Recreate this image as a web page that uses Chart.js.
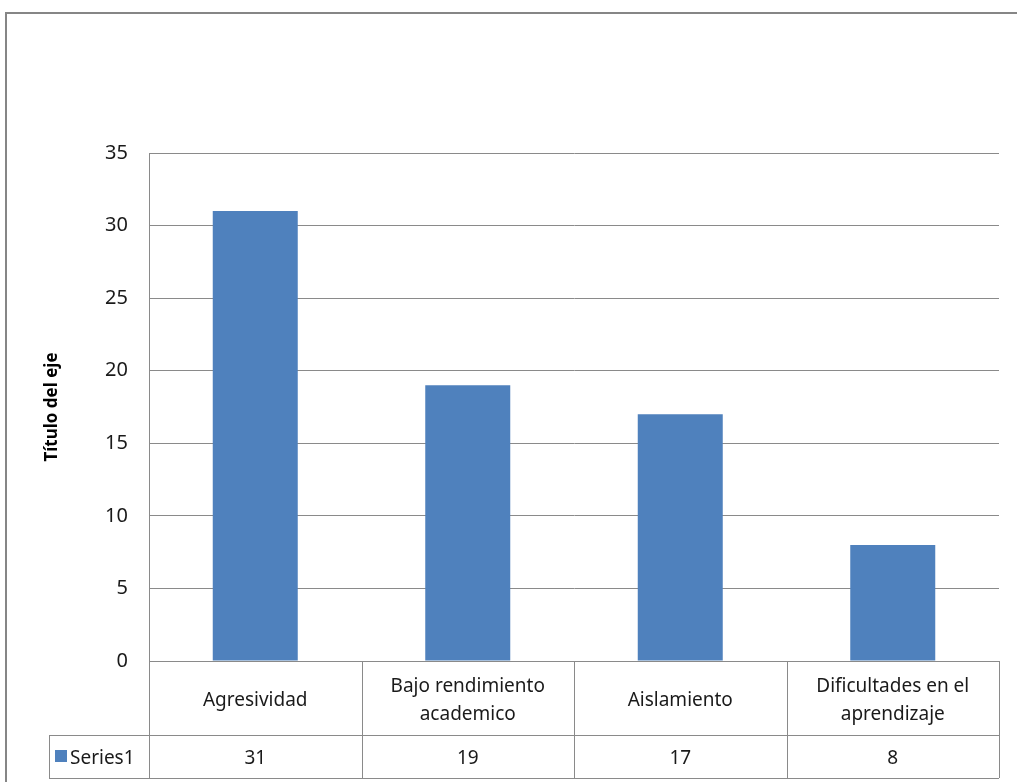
<!DOCTYPE html>
<html>
<head>
<meta charset="utf-8">
<script src="https://cdn.jsdelivr.net/npm/chart.js@4"></script>
<style>
  html, body { margin: 0; padding: 0; background: #fff; }
  #wrap { width: 1017px; height: 782px; position: relative; }
</style>
</head>
<body>
<div id="wrap"><canvas id="barChart" width="1017" height="782"></canvas></div>
<script>
// data
const categories = [['Agresividad'], ['Bajo rendimiento', 'academico'], ['Aislamiento'], ['Dificultades en el', 'aprendizaje']];
const seriesName = 'Series1';
const series1 = [31, 19, 17, 8];
const yTicks = [0, 5, 10, 15, 20, 25, 30, 35];

const fontFam = '"Noto Sans", "Open Sans", sans-serif';
const lineGray = '#8a8a8a';
const barBlue = '#4f81bd';
const textColor = '#1a1a1a';

// draws the outer frame and the data table under the plot
const tablePlugin = {
  id: 'dataTable',
  beforeDraw(chart) {
    const c = chart.ctx;
    c.save();
    c.strokeStyle = '#868686';
    c.lineWidth = 2;
    c.strokeRect(6, 13, 1030, 800);
    c.restore();
  },
  afterDraw(chart) {
    const c = chart.ctx;
    const area = chart.chartArea;
    const x = chart.scales.x;
    const n = categories.length;
    const colW = (area.right - area.left) / n;
    const row1Top = area.bottom, row1Bot = 735, row2Bot = 778;
    const legendLeft = 49;

    c.save();
    c.strokeStyle = lineGray;
    c.lineWidth = 1;
    c.beginPath();
    // horizontal lines
    c.moveTo(area.left, row1Top + 0.5); c.lineTo(area.right, row1Top + 0.5);
    c.moveTo(legendLeft, row1Bot + 0.5); c.lineTo(area.right, row1Bot + 0.5);
    c.moveTo(legendLeft, row2Bot + 0.5); c.lineTo(area.right, row2Bot + 0.5);
    // verticals
    c.moveTo(legendLeft + 0.5, row1Bot); c.lineTo(legendLeft + 0.5, row2Bot);
    for (let i = 0; i <= n; i++) {
      const px = Math.round(area.left + i * colW) + 0.5;
      c.moveTo(px, row1Top); c.lineTo(px, row2Bot);
    }
    c.stroke();

    c.fillStyle = textColor;
    c.font = '19px ' + fontFam;
    c.textAlign = 'center';
    c.textBaseline = 'middle';
    const midY = (row1Top + row1Bot) / 2 + 3;
    categories.forEach((lines, i) => {
      const cx = x.getPixelForValue(i);
      const lh = 28;
      lines.forEach((t, j) => {
        c.fillText(t, cx, midY + (j - (lines.length - 1) / 2) * lh);
      });
      c.fillText(String(series1[i]), cx, (row1Bot + row2Bot) / 2 + 2);
    });

    // legend key
    c.fillStyle = barBlue;
    c.fillRect(55, 750, 12, 12);
    c.fillStyle = textColor;
    c.textAlign = 'left';
    c.fillText(seriesName, 70, (row1Bot + row2Bot) / 2 + 2);
    c.restore();
  }
};

new Chart(document.getElementById('barChart').getContext('2d'), {
  type: 'bar',
  data: {
    labels: categories,
    datasets: [{
      label: seriesName,
      data: series1,
      backgroundColor: barBlue,
      borderWidth: 0,
      categoryPercentage: 1,
      barPercentage: 0.4
    }]
  },
  options: {
    responsive: false,
    animation: false,
    layout: { padding: { left: 0, top: 153, right: 18, bottom: 121 } },
    plugins: {
      legend: { display: false },
      tooltip: { enabled: false }
    },
    scales: {
      x: {
        ticks: { display: false },
        grid: { display: false },
        border: { display: false },
        afterFit(s) { s.height = 0; }
      },
      y: {
        min: 0,
        max: 35,
        afterBuildTicks(s) { s.ticks = yTicks.map(v => ({ value: v })); },
        ticks: {
          padding: 21,
          color: textColor,
          font: { family: fontFam, size: 20 }
        },
        grid: { color: lineGray, drawTicks: false },
        border: { color: lineGray },
        title: {
          display: true,
          text: 'Título del eje',
          color: '#000',
          font: { family: fontFam, size: 17, weight: 'bold' },
          padding: { top: 42, bottom: 0 }
        },
        afterFit(s) { s.width = 149; }
      }
    }
  },
  plugins: [tablePlugin]
});
</script>
</body>
</html>
